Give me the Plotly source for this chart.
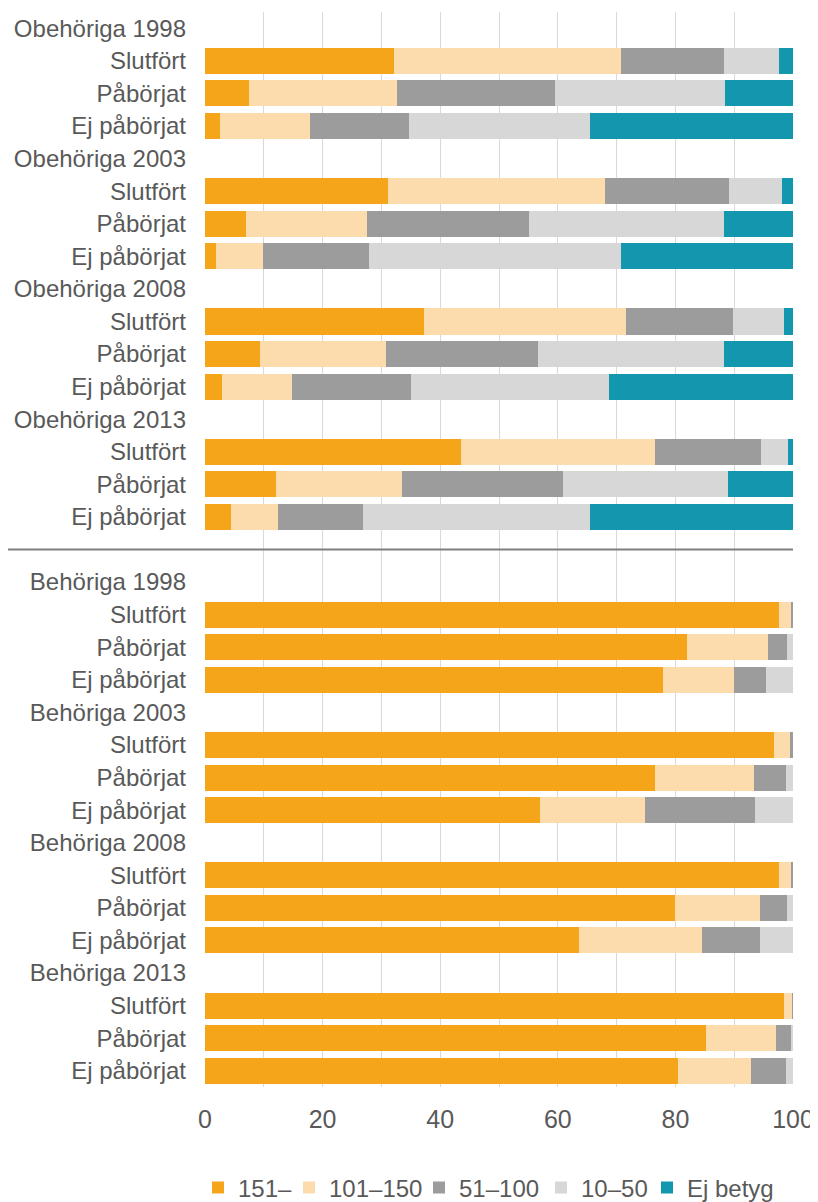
import plotly.graph_objects as go

groups = ["Obehöriga", "Behöriga"]
years = ["1998", "2003", "2008", "2013"]
statuses = ["Slutfört", "Påbörjat", "Ej påbörjat"]

series_names = ["151–", "101–150", "51–100", "10–50", "Ej betyg"]
colors = ["#F5A519", "#FCDCAD", "#9C9C9C", "#D7D7D7", "#1297AE"]

# values per bar row, in order: Obehöriga 1998..2013 (Slutfört, Påbörjat, Ej påbörjat), then Behöriga
v151 = [32.2, 7.5, 2.5, 31.2, 6.9, 1.8, 37.2, 9.3, 2.9, 43.6, 12.1, 4.4,
        97.6, 82.0, 77.9, 96.8, 76.6, 56.9, 97.6, 80.0, 63.6, 98.4, 85.2, 80.4]
v101 = [38.5, 25.1, 15.4, 36.9, 20.6, 8.1, 34.4, 21.5, 11.9, 33.0, 21.4, 8.0,
        2.2, 13.7, 12.0, 2.7, 16.8, 17.9, 2.1, 14.4, 21.0, 1.5, 11.9, 12.4]
v51 = [17.5, 27.0, 16.8, 21.0, 27.6, 18.0, 18.2, 25.9, 20.3, 18.0, 27.3, 14.4,
       0.2, 3.3, 5.5, 0.5, 5.4, 18.7, 0.3, 4.6, 9.8, 0.1, 2.7, 6.0]
v10 = [9.5, 28.8, 30.7, 9.1, 33.2, 42.8, 8.7, 31.6, 33.6, 4.5, 28.2, 38.6,
       0.0, 1.0, 4.6, 0.0, 1.2, 6.5, 0.0, 1.0, 5.6, 0.0, 0.2, 1.2]
vej = [2.3, 11.6, 34.6, 1.8, 11.7, 29.3, 1.5, 11.7, 31.3, 0.9, 11.0, 34.6,
       0.0, 0.0, 0.0, 0.0, 0.0, 0.0, 0.0, 0.0, 0.0, 0.0, 0.0, 0.0]
series_values = [v151, v101, v51, v10, vej]

x_ticks = [0, 20, 40, 60, 80, 100]

# build row structure
tickvals, ticktext, bar_rows = [], [], []
row = 0
sep_row = None
for gi, g in enumerate(groups):
    if gi > 0:
        sep_row = row
        row += 1  # blank separator row
    for y in years:
        tickvals.append(row)
        ticktext.append(f"{g} {y}")
        row += 1
        for s in statuses:
            tickvals.append(row)
            ticktext.append(s)
            bar_rows.append(row)
            row += 1
n_rows = row

legend_widths = [46, 85, 77, 61, 90]

W, H = 810, 1194  # page body has an 8px margin

fig = go.Figure()
for name, col, vals, lw in zip(series_names, colors, series_values, legend_widths):
    fig.add_trace(go.Bar(
        x=vals, y=bar_rows, orientation="h", name=name,
        marker=dict(color=col, line=dict(width=0)),
        legendwidth=lw,
        hoverinfo="x+name",
    ))

text_color = "#595959"
font_family = "Liberation Sans, Arial, sans-serif"

fig.update_layout(
    barmode="stack",
    bargap=0.2,
    width=W, height=H,
    margin=dict(l=197, r=25, t=4, b=115),
    plot_bgcolor="white", paper_bgcolor="white",
    font=dict(family=font_family, color=text_color, size=24),
    showlegend=True,
    legend=dict(
        orientation="h", xref="container", yref="container",
        x=190 / W, xanchor="left", y=(H - 1180) / H, yanchor="middle",
        font=dict(size=24, color=text_color), traceorder="normal",
        itemclick=False, itemdoubleclick=False,
    ),
    xaxis=dict(
        range=[0, 100], tickvals=x_ticks, ticktext=[str(v) for v in x_ticks],
        showgrid=True, gridcolor="#D9D9D9", gridwidth=1,
        minor=dict(dtick=10, showgrid=True, gridcolor="#D9D9D9", gridwidth=1),
        zeroline=False, showline=False, ticks="",
        tickfont=dict(size=25, color=text_color),
        ticklabelstandoff=15, automargin=False, ticklabeloverflow="allow",
    ),
    yaxis=dict(
        range=[n_rows - 0.5, -0.5], tickvals=tickvals, ticktext=ticktext,
        showgrid=False, zeroline=False, showline=False, ticks="",
        tickfont=dict(size=24, color=text_color),
        ticklabelstandoff=18, automargin=False,
    ),
)

fig.add_shape(type="line", xref="paper", yref="y",
              x0=(8 - 205) / 588, x1=1.0, y0=sep_row, y1=sep_row,
              line=dict(color="#7F7F7F", width=2))

fig.write_html("out.html")
